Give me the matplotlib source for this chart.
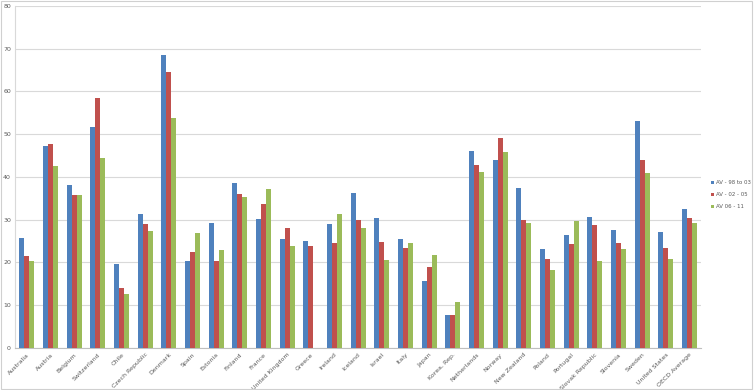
import numpy as np
import matplotlib
matplotlib.use("Agg")
import matplotlib.pyplot as plt
from matplotlib.patches import Rectangle

countries = ["Australia", "Austria", "Belgium", "Switzerland", "Chile", "Czech Republic",
             "Denmark", "Spain", "Estonia", "Finland", "France", "United Kingdom", "Greece",
             "Ireland", "Iceland", "Israel", "Italy", "Japan", "Korea, Rep.", "Netherlands",
             "Norway", "New Zealand", "Poland", "Portugal", "Slovak Republic", "Slovenia",
             "Sweden", "United States", "OECD Average"]

av_98_03 = [25.8, 47.3, 38.1, 51.7, 19.7, 31.3, 68.4, 20.4, 29.2, 38.5, 30.2, 25.4, 24.9,
            29.0, 36.2, 30.3, 25.4, 15.6, 7.6, 46.0, 43.9, 37.3, 23.2, 26.5, 30.6, 27.6,
            53.0, 27.1, 32.5]
av_02_05 = [21.6, 47.6, 35.7, 58.4, 14.1, 29.0, 64.6, 22.5, 20.4, 35.9, 33.7, 28.1, 23.9,
            24.5, 29.9, 24.8, 23.4, 18.9, 7.6, 42.7, 49.2, 29.9, 20.8, 24.4, 28.7, 24.5,
            43.9, 23.4, 30.4]
av_06_11 = [20.4, 42.6, 35.7, 44.4, 12.7, 27.4, 53.8, 26.8, 22.9, 35.4, 37.1, 23.9, np.nan,
            31.3, 28.1, 20.6, 24.5, 21.8, 10.8, 41.1, 45.8, 29.2, 18.2, 29.7, 20.3, 23.1,
            40.9, 20.9, 29.2]

series = [("AV - 98 to 03", av_98_03, "#4F81BD"),
          ("AV - 02 - 05", av_02_05, "#C0504D"),
          ("AV 06 - 11", av_06_11, "#9BBB59")]

text_col = "#595959"
grid_col = "#D9D9D9"

fig = plt.figure(figsize=(7.54, 3.9), dpi=100)
ax = fig.add_axes([0.02, 0.108, 0.91, 0.877])

x = np.arange(len(countries))
w = 0.21
for i, (name, vals, col) in enumerate(series):
    ax.bar(x + (i - 1) * w, vals, width=w, color=col, label=name, zorder=3)

ax.set_xlim(-0.5, len(countries) - 0.5)
ax.set_ylim(0, 80)
ax.set_yticks(range(0, 81, 10))
ax.yaxis.grid(True, color=grid_col, linewidth=0.8, zorder=0)
ax.set_xticks(x)
ax.set_xticklabels(countries, rotation=45, ha="right", rotation_mode="anchor")
ax.tick_params(axis="both", length=0, labelsize=4.5, colors=text_col)
ax.tick_params(axis="x", pad=3)
ax.tick_params(axis="y", pad=3)

for s in ["top", "right"]:
    ax.spines[s].set_visible(False)
ax.spines["left"].set_color(grid_col)
ax.spines["bottom"].set_color("#BFBFBF")
ax.spines["left"].set_linewidth(0.8)
ax.spines["bottom"].set_linewidth(0.8)

fig.legend(loc="upper left", bbox_to_anchor=(0.939, 0.545), frameon=False,
           fontsize=3.9, handlelength=0.6, handleheight=0.6, handletextpad=0.4,
           labelspacing=1.3, labelcolor=text_col, borderpad=0)

fig.patches.append(Rectangle((0.001, 0.002), 0.997, 0.995, transform=fig.transFigure,
                             fill=False, edgecolor="#D0D0D0", linewidth=0.8))

fig.savefig("out.png", dpi=100)
